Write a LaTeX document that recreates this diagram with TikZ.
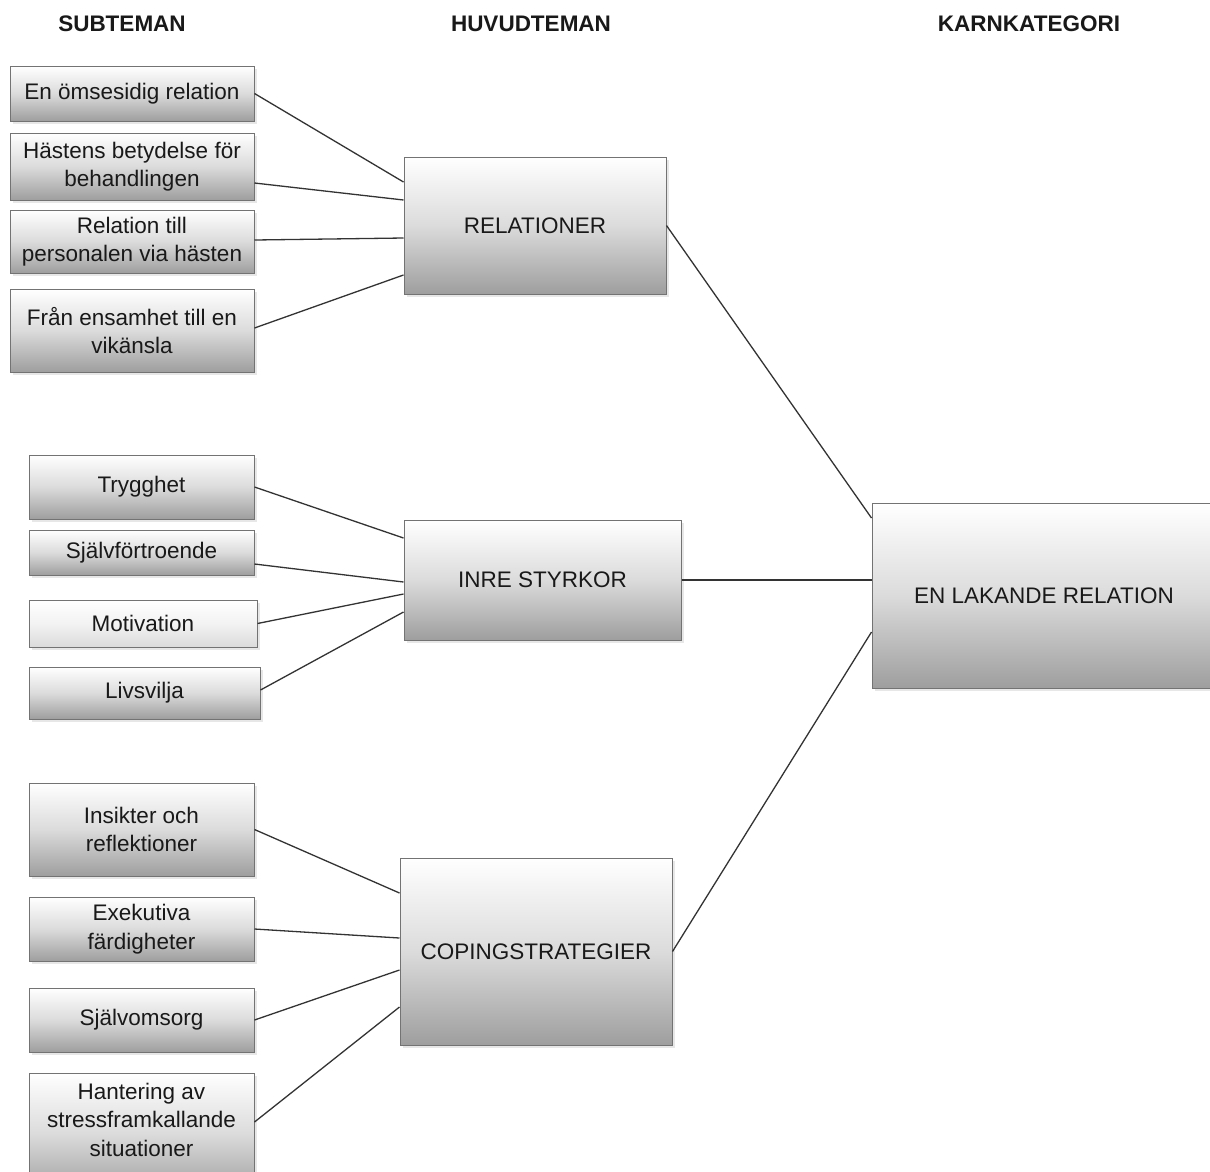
\documentclass[tikz,border=0pt]{standalone}
\usepackage{fontspec}
\setmainfont{Liberation Sans}
\usetikzlibrary{shadows}

\tikzset{
  box/.style={draw=black!55, line width=1pt, top color=white, bottom color=black!38,
    middle color=black!14, align=center, inner sep=2pt, text=black!90,
    font=\fontsize{22.5}{28.5}\selectfont,
    drop shadow={shadow xshift=3pt, shadow yshift=-3pt, fill=black!18}},
  lightbox/.style={box, top color=white, bottom color=black!14, middle color=black!5},
  head/.style={font=\fontsize{22.5}{26}\selectfont\bfseries, text=black!90},
  link/.style={draw=black!80, line width=1.3pt}
}

\begin{document}
\begin{tikzpicture}[x=1pt,y=-1pt]
    % Page
    \fill[white] (0,0) rectangle (1210,1171);
    \useasboundingbox (0,0) rectangle (1210,1171);

    % Headings
    \node[head] (hsub) at (122,24) {SUBTEMAN};
    \node[head] (hhuv) at (531,24) {HUVUDTEMAN};
    \node[head] (hkarn) at (1029,24) {KARNKATEGORI};

    % Core category
    \node[box, minimum width=344pt, minimum height=185pt] (karn) at (1044,595.5) {EN LAKANDE RELATION};

    % Main themes
    \node[box, minimum width=262pt, minimum height=137pt] (rel) at (535,225.5) {RELATIONER};
    \node[box, minimum width=277pt, minimum height=120pt] (inre) at (542.5,580) {INRE STYRKOR};
    \node[box, minimum width=272pt, minimum height=187pt] (cop) at (536,951.5) {COPINGSTRATEGIER};

    % Subthemes: relationer
    \node[box, minimum width=244pt, minimum height=55pt] (r1) at (132,93.5) {En ömsesidig relation};
    \node[box, minimum width=244pt, minimum height=67pt] (r2) at (132,166.5) {Hästens betydelse för\\behandlingen};
    \node[box, minimum width=244pt, minimum height=63pt] (r3) at (132,241.5) {Relation till\\personalen via hästen};
    \node[box, minimum width=244pt, minimum height=83pt] (r4) at (132,330.5) {Från ensamhet till en\\vikänsla};

    % Subthemes: inre styrkor
    \node[box, minimum width=225pt, minimum height=64pt] (i1) at (141.5,487) {Trygghet};
    \node[box, minimum width=225pt, minimum height=45pt] (i2) at (141.5,552.5) {Självförtroende};
    \node[lightbox, minimum width=228pt, minimum height=47pt] (i3) at (143,623.5) {Motivation};
    \node[box, minimum width=231pt, minimum height=52pt] (i4) at (144.5,693) {Livsvilja};

    % Subthemes: copingstrategier
    \node[box, minimum width=225pt, minimum height=93pt] (c1) at (141.5,829.5) {Insikter och\\reflektioner};
    \node[box, minimum width=225pt, minimum height=64pt] (c2) at (141.5,929) {Exekutiva\\färdigheter};
    \node[box, minimum width=225pt, minimum height=64pt] (c3) at (141.5,1020) {Självomsorg};
    \node[box, minimum width=225pt, minimum height=122pt] (c4) at (141.5,1134) {Hantering av\\stressframkallande\\situationer\\\mbox{}};

    % Links to relationer
    \draw[link] (r1.east) -- ([yshift=43.5pt]rel.west);
    \draw[link] ([yshift=-16.5pt]r2.east) -- ([yshift=25.5pt]rel.west);
    \draw[link] ([yshift=1.5pt]r3.east) -- ([yshift=-12.5pt]rel.west);
    \draw[link] ([yshift=2.5pt]r4.east) -- ([yshift=-49.5pt]rel.west);

    % Links to inre styrkor
    \draw[link] (i1.east) -- ([yshift=42pt]inre.west);
    \draw[link] ([yshift=-11.5pt]i2.east) -- ([yshift=-2pt]inre.west);
    \draw[link] (i3.east) -- ([yshift=-14pt]inre.west);
    \draw[link] ([yshift=3pt]i4.east) -- ([yshift=-32pt]inre.west);

    % Links to copingstrategier
    \draw[link] (c1.east) -- ([yshift=58.5pt]cop.west);
    \draw[link] (c2.east) -- ([yshift=13.5pt]cop.west);
    \draw[link] (c3.east) -- ([yshift=-18.5pt]cop.west);
    \draw[link] ([yshift=12pt]c4.east) -- ([yshift=-55.5pt]cop.west);

    % Links to core category
    \draw[link] (rel.east) -- ([yshift=77.5pt]karn.west);
    \draw[link] (inre.east) -- ([yshift=15.5pt]karn.west);
    \draw[link] (cop.east) -- ([yshift=-36.5pt]karn.west);
\end{tikzpicture}
\end{document}
